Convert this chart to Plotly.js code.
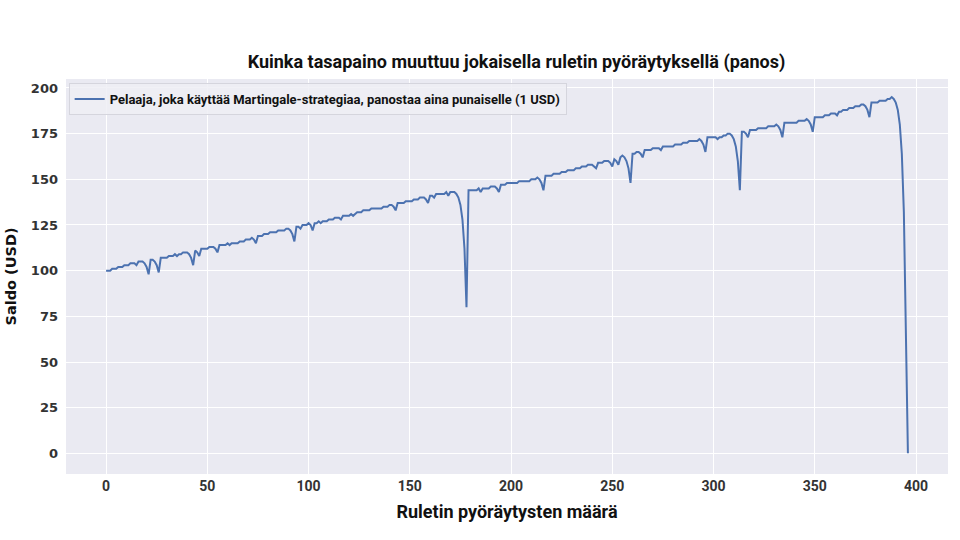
<!DOCTYPE html>
<html>
<head>
<meta charset="utf-8">
<script src="https://cdn.plot.ly/plotly-3.0.1.min.js"></script>
<style>html,body{margin:0;padding:0;background:#fff;}#chart{width:960px;height:540px;}</style>
</head>
<body>
<div id="chart"></div>
<script>
// Balance after each roulette spin
const balance = [
  100,100,100,101,101,101,102,102,102,103,
  103,103,104,104,104,103,105,105,105,104,
  102,98,106,106,105,103,99,107,107,107,
  107,108,108,108,109,108,109,109,110,110,
  110,109,107,103,111,110,108,112,112,112,
  112,113,113,113,112,110,114,114,114,114,
  115,114,115,115,115,115,116,116,116,117,
  117,117,118,117,115,119,119,119,120,120,
  120,121,121,121,121,122,122,122,122,123,
  123,122,120,116,124,124,123,125,125,125,
  126,125,122,126,126,127,126,127,127,127,
  128,128,128,129,129,129,128,130,130,130,
  130,131,130,131,132,132,132,133,133,133,
  133,134,134,134,134,134,134,135,135,135,
  136,136,135,133,137,137,137,137,138,138,
  138,138,139,139,139,140,140,140,139,137,
  141,141,140,142,142,142,142,142,143,141,
  143,143,143,142,140,136,128,112,80,144,
  144,144,144,144,145,143,145,145,145,145,
  146,146,146,145,143,147,147,147,148,148,
  148,148,148,148,149,149,149,149,149,149,
  150,150,150,151,150,148,144,152,152,152,
  152,153,153,153,153,154,154,154,155,155,
  155,155,156,156,156,157,157,157,158,158,
  158,157,156,159,159,159,160,160,160,159,
  157,161,160,158,162,163,162,160,156,148,
  164,164,165,165,164,162,166,166,166,166,
  167,167,167,167,166,168,168,168,168,168,
  168,169,169,169,169,170,170,170,171,171,
  171,171,171,172,171,169,165,173,173,173,
  173,173,172,173,173,174,174,175,175,174,
  172,168,160,144,176,176,175,173,177,177,
  177,177,178,178,178,178,178,179,179,179,
  179,180,179,177,173,181,181,181,181,181,
  181,181,182,182,182,182,183,182,180,176,
  184,184,184,184,184,185,185,185,186,186,
  186,185,187,187,188,188,188,189,189,189,
  190,190,190,191,191,190,188,184,192,192,
  192,192,193,193,193,193,194,194,195,194,
  192,188,180,164,132,68,0
];
const spins = balance.map((v, i) => i);

const seriesName = 'Pelaaja, joka käyttää Martingale-strategiaa, panostaa aina punaiselle (1 USD)';
const chartTitle = 'Kuinka tasapaino muuttuu jokaisella ruletin pyöräytyksellä (panos)';
const xTitle = 'Ruletin pyöräytysten määrä';
const yTitle = 'Saldo (USD)';
const xTicks = [0, 50, 100, 150, 200, 250, 300, 350, 400];
const yTicks = [0, 25, 50, 75, 100, 125, 150, 175, 200];

const trace = {
  x: spins, y: balance, type: 'scatter', mode: 'lines', name: seriesName,
  line: {color: '#4C72B0', width: 2}, showlegend: true
};

const layout = {
  width: 960, height: 540,
  paper_bgcolor: '#ffffff', plot_bgcolor: '#EAEAF2',
  margin: {l: 66, r: 12, t: 79, b: 66},
  title: {
    text: '<b>' + chartTitle + '</b>', xref: 'container', x: 0.538, xanchor: 'center',
    yref: 'container', y: 0.885, yanchor: 'middle',
    font: {family: 'Roboto, sans-serif', size: 18, color: '#111'}
  },
  xaxis: {
    range: [-19.8, 415.8], tickvals: xTicks, ticktext: xTicks.map(String),
    showgrid: true, gridcolor: '#ffffff', gridwidth: 1, zeroline: false, showline: false,
    ticks: '', ticklabelstandoff: 2,
    tickfont: {family: 'Roboto, sans-serif', size: 14, color: '#333', weight: 'bold'},
    title: {text: '<b>' + xTitle + '</b>', standoff: 12,
      font: {family: 'Roboto, sans-serif', size: 18, color: '#111'}}
  },
  yaxis: {
    range: [-11.3, 204.9], tickvals: yTicks, ticktext: yTicks.map(String),
    showgrid: true, gridcolor: '#ffffff', gridwidth: 1, zeroline: false, showline: false,
    ticks: '', ticklabelstandoff: 7,
    tickfont: {family: 'DejaVu Sans, sans-serif', size: 13, color: '#333', weight: 'bold'},
    title: {text: '<b>' + yTitle + '</b>', standoff: 10,
      font: {family: 'DejaVu Sans, sans-serif', size: 14.5, color: '#111'}}
  },
  legend: {
    x: 0.003, y: 0.99, xanchor: 'left', yanchor: 'top',
    bgcolor: 'rgba(238,238,245,0.85)', bordercolor: '#d5d5dd', borderwidth: 1,
    font: {family: 'Roboto, sans-serif', size: 13, color: '#111', weight: 'bold'},
    itemwidth: 30, tracegroupgap: 0
  },
  showlegend: true
};

Plotly.newPlot('chart', [trace], layout, {displayModeBar: false, staticPlot: true});
</script>
</body>
</html>
